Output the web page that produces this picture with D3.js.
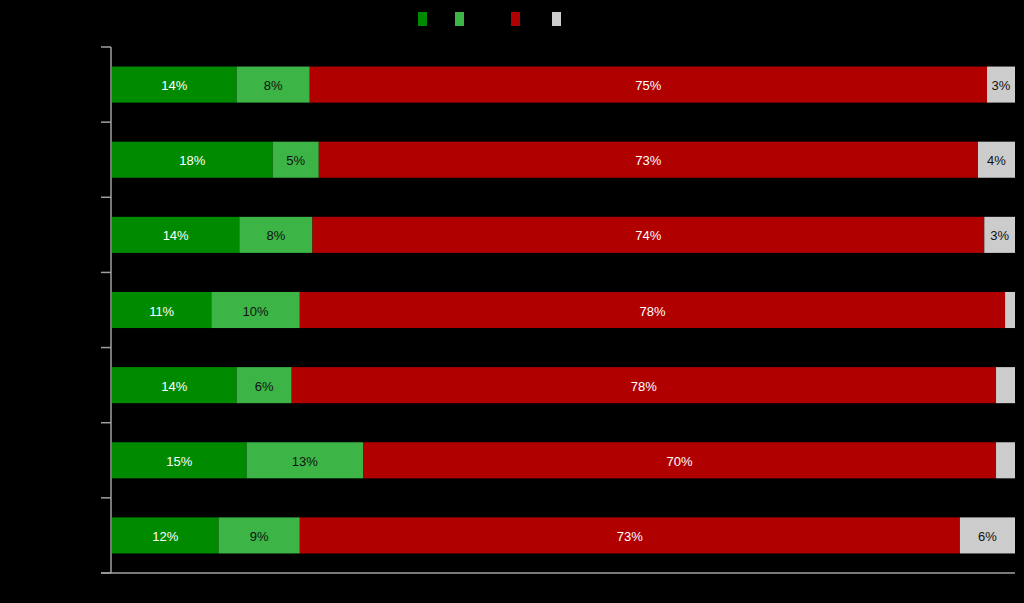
<!DOCTYPE html>
<html>
<head>
<meta charset="utf-8">
<script src="https://cdn.jsdelivr.net/npm/d3@7"></script>
<style>
  html, body { margin: 0; padding: 0; background: #000; }
  svg { display: block; }
</style>
</head>
<body>
<svg id="chart" width="1024" height="603"></svg>
<script>
// Row identifiers (category labels are drawn black-on-black in the reference, so unreadable)
const categories = ["Row 1", "Row 2", "Row 3", "Row 4", "Row 5", "Row 6", "Row 7"];
const seriesKeys = ["s1", "s2", "s3", "s4"];
const seriesColors = ["#008a00", "#3cb546", "#b00000", "#cccccc"];
const labelColors = ["#ffffff", "#111111", "#ffffff", "#111111"];

// Percent values per series, one entry per row
const s1 = [13.8, 17.8, 14.1, 11.0, 13.8, 14.9, 11.8];
const s2 = [8.1, 5.1, 8.1, 9.8, 6.1, 12.9, 9.0];
const s3 = [75.0, 73.0, 74.4, 78.1, 78.0, 70.1, 73.1];
const s4 = [3.1, 4.1, 3.4, 1.1, 2.1, 2.1, 6.1];

const xTicks = [0, 100];

const data = categories.map((c, i) => ({ cat: c, s1: s1[i], s2: s2[i], s3: s3[i], s4: s4[i] }));

const svg = d3.select("#chart");
const margin = { top: 47, right: 9, bottom: 30, left: 111 };
const W = 1024, H = 603;

const x = d3.scaleLinear().domain([0, 100]).range([margin.left + 1, W - margin.right]);
const y = d3.scaleBand().domain(categories).range([margin.top, H - margin.bottom]).paddingInner(0.52).paddingOuter(0.26);

const stack = d3.stack().keys(seriesKeys);
const layers = stack(data);

const g = svg.append("g");
layers.forEach((layer, li) => {
  const lg = g.append("g");
  lg.selectAll("rect").data(layer).join("rect")
    .attr("x", d => x(d[0]))
    .attr("y", d => y(d.data.cat))
    .attr("width", d => x(d[1]) - x(d[0]))
    .attr("height", y.bandwidth())
    .attr("fill", seriesColors[li]);
  lg.selectAll("text").data(layer.filter(d => d[1] - d[0] >= 2.5)).join("text")
    .attr("x", d => (x(d[0]) + x(d[1])) / 2)
    .attr("y", d => y(d.data.cat) + y.bandwidth() / 2 + 1)
    .attr("dy", "0.35em")
    .attr("text-anchor", "middle")
    .attr("font-family", "Liberation Sans, Arial, sans-serif")
    .attr("font-size", 13)
    .attr("fill", labelColors[li])
    .text(d => Math.round(d[1] - d[0]) + "%");
});

// Y axis (band boundaries as ticks)
const axisColor = "#a0a0a0";
const yEdges = categories.map(c => y(c) - y.step() * y.paddingInner() / 2);
yEdges.push(H - margin.bottom);
const ax = svg.append("g");
ax.append("line")
  .attr("x1", margin.left).attr("x2", margin.left)
  .attr("y1", margin.top).attr("y2", H - margin.bottom)
  .attr("stroke", axisColor).attr("stroke-width", 1.5);
ax.selectAll("line.tick").data(yEdges).join("line")
  .attr("class", "tick")
  .attr("x1", margin.left - 10).attr("x2", margin.left)
  .attr("y1", d => d).attr("y2", d => d)
  .attr("stroke", axisColor).attr("stroke-width", 1.5);
// X axis baseline
ax.append("line")
  .attr("x1", margin.left - 10).attr("x2", x(xTicks[1]))
  .attr("y1", H - margin.bottom).attr("y2", H - margin.bottom)
  .attr("stroke", axisColor).attr("stroke-width", 1.5);

// Legend swatches
const legendX = [418, 455, 511, 552];
svg.append("g").selectAll("rect").data(seriesKeys).join("rect")
  .attr("x", (d, i) => legendX[i])
  .attr("y", 12)
  .attr("width", 9)
  .attr("height", 14)
  .attr("fill", (d, i) => seriesColors[i]);
</script>
</body>
</html>
